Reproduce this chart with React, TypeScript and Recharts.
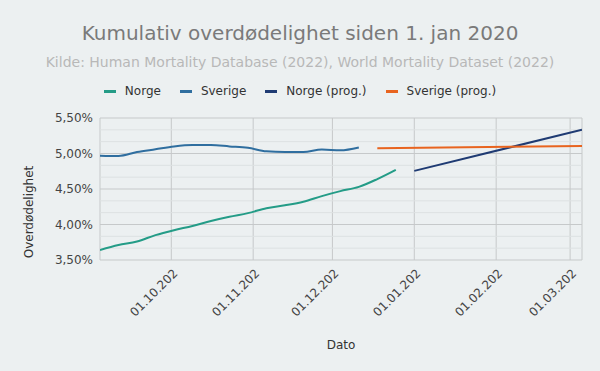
import { CartesianGrid, Line, LineChart, ReferenceLine, XAxis, YAxis } from "recharts"

// days counted from 04.09.2021 (left edge of the plot)
const weekDays = [0, 7, 14, 21, 28, 35, 42, 49, 56, 63, 70, 77, 84, 91, 98, 105, 112]
const norge = [3.64, 3.71, 3.76, 3.85, 3.92, 3.98, 4.05, 4.11, 4.16, 4.23, 4.27, 4.32, 4.4, 4.47, 4.53, 4.64, 4.77]
const sverige = [4.97, 4.965, 5.02, 5.06, 5.1, 5.12, 5.12, 5.1, 5.08, 5.03, 5.02, 5.02, 5.055, 5.045, 5.085]
const norgeProgDays = [119, 182.5]
const norgeProg = [4.755, 5.335]
const sverigeProgDays = [105, 182.5]
const sverigeProg = [5.073, 5.105]

const monthTicks = [27, 58, 88, 119, 150, 178]
const monthLabels = ["01.10.202", "01.11.202", "01.12.202", "01.01.202", "01.02.202", "01.03.202"]
const majorTicks = [3.5, 4, 4.5, 5, 5.5]
const minorTicks = [3.6667, 3.8333, 4.1667, 4.3333, 4.6667, 4.8333, 5.1667, 5.3333]

const legendItems = [
  { name: "Norge", color: "#249c87" },
  { name: "Sverige", color: "#2f6e9f" },
  { name: "Norge (prog.)", color: "#1f3b73" },
  { name: "Sverige (prog.)", color: "#e8641f" },
]

const font = "'DejaVu Sans', sans-serif"

const toRows = (days: number[], values: number[]) =>
  values.map((value, i) => ({ day: days[i], value }))

function DateTick({ x, y, payload }: any) {
  const label = monthLabels[monthTicks.indexOf(payload.value)]
  return (
    <text
      x={x + 7}
      y={y + 6}
      fill="#444"
      fontSize={12}
      fontFamily={font}
      textAnchor="end"
      transform={`rotate(-45, ${x + 7}, ${y + 6})`}
    >
      {label}
    </text>
  )
}

export default function App() {
  return (
    <div
      style={{
        position: "absolute",
        left: 0,
        top: 0,
        width: 600,
        height: 371,
        background: "#ecf0f1",
        fontFamily: font,
      }}
    >
      <div
        style={{
          position: "absolute",
          top: 23,
          width: 600,
          textAlign: "center",
          fontSize: 20,
          lineHeight: "20px",
          color: "#7a7a7a",
        }}
      >
        Kumulativ overdødelighet siden 1. jan 2020
      </div>
      <div
        style={{
          position: "absolute",
          top: 55,
          width: 600,
          textAlign: "center",
          fontSize: 14,
          lineHeight: "14px",
          color: "#b8b8b8",
        }}
      >
        Kilde: Human Mortality Database (2022), World Mortality Dataset (2022)
      </div>
      <div
        style={{
          position: "absolute",
          top: 85,
          width: 600,
          display: "flex",
          justifyContent: "center",
          gap: 19,
          fontSize: 12,
          lineHeight: "12px",
          color: "#333",
        }}
      >
        {legendItems.map((item) => (
          <div key={item.name} style={{ display: "flex", alignItems: "center", gap: 9 }}>
            <span style={{ width: 12, height: 3, background: item.color, display: "inline-block" }} />
            <span>{item.name}</span>
          </div>
        ))}
      </div>

      <div style={{ position: "absolute", left: 0, top: 0 }}>
        <LineChart width={600} height={371} margin={{ top: 118, right: 18, bottom: 81, left: 0 }}>
          <CartesianGrid stroke="#c6c9ca" />
          {minorTicks.map((v) => (
            <ReferenceLine key={v} y={v} stroke="#dde1e2" />
          ))}
          <XAxis
            dataKey="day"
            type="number"
            domain={[0, 182.5]}
            ticks={monthTicks}
            allowDataOverflow
            axisLine={false}
            tickLine={false}
            height={30}
            tick={<DateTick />}
          />
          <YAxis
            type="number"
            domain={[3.5, 5.5]}
            ticks={majorTicks}
            allowDataOverflow
            axisLine={false}
            tickLine={false}
            width={100}
            tickMargin={1}
            tick={{ fill: "#444", fontSize: 12, fontFamily: font }}
            tickFormatter={(v: number) => `${v.toFixed(2).replace(".", ",")}%`}
          />
          <Line data={toRows(weekDays, norge)} dataKey="value" stroke="#249c87" strokeWidth={2} dot={false} activeDot={false} type="monotone" isAnimationActive={false} />
          <Line data={toRows(weekDays, sverige)} dataKey="value" stroke="#2f6e9f" strokeWidth={2} dot={false} activeDot={false} type="monotone" isAnimationActive={false} />
          <Line data={toRows(norgeProgDays, norgeProg)} dataKey="value" stroke="#1f3b73" strokeWidth={2} dot={false} activeDot={false} type="linear" isAnimationActive={false} />
          <Line data={toRows(sverigeProgDays, sverigeProg)} dataKey="value" stroke="#e8641f" strokeWidth={2} dot={false} activeDot={false} type="linear" isAnimationActive={false} />
        </LineChart>
      </div>

      <svg width={600} height={371} style={{ position: "absolute", left: 0, top: 0, pointerEvents: "none" }}>
        <text
          x={33}
          y={212}
          fontSize={12}
          fontFamily={font}
          fill="#333"
          textAnchor="middle"
          transform="rotate(-90, 33, 212)"
        >
          Overdødelighet
        </text>
        <text x={341} y={348.5} fontSize={12} fontFamily={font} fill="#333" textAnchor="middle">
          Dato
        </text>
      </svg>
    </div>
  )
}
